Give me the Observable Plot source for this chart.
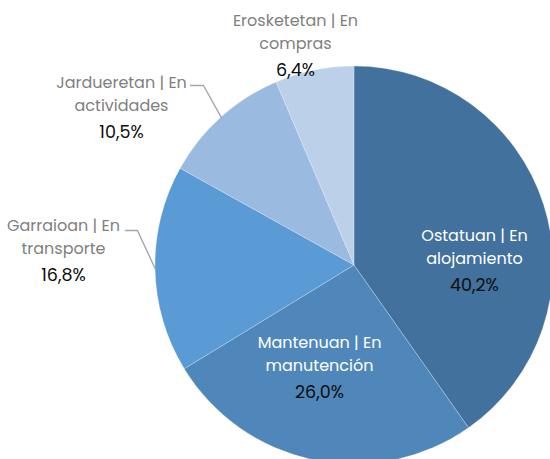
<!DOCTYPE html>
<html><head><meta charset="utf-8">
<script src="https://cdn.jsdelivr.net/npm/d3@7"></script>
<script src="https://cdn.jsdelivr.net/npm/@observablehq/plot@0.6"></script>
<style>body{margin:0;background:#fff}</style>
</head><body><div id="chart"></div>
<script>
// ---- data ----
const categories = ["Ostatuan | En alojamiento", "Mantenuan | En manutención", "Garraioan | En transporte", "Jardueretan | En actividades", "Erosketetan | En compras"];
const nameLine1 = ["Ostatuan | En", "Mantenuan | En", "Garraioan | En", "Jardueretan | En", "Erosketetan | En"];
const nameLine2 = ["alojamiento", "manutención", "transporte", "actividades", "compras"];
const values = [40.2, 26.0, 16.8, 10.5, 6.4];
const colors = ["#41719C", "#4F87BA", "#5B9BD5", "#9BBAE0", "#BDD0EA"];

// ---- layout ----
const W = 550, H = 459, CX = 354, CY = 265, R = 199;
const labelAnchors = [
  {x: 474, y: 235, inside: true},
  {x: 319, y: 342, inside: true},
  {x: 63, y: 225, inside: false, leader: [125, 230, 137]},
  {x: 121, y: 82, inside: false, leader: [190, 85, 203]},
  {x: 295, y: 20, inside: false}
];

const rows = categories.map((c, i) => ({category: c, value: values[i], line1: nameLine1[i], line2: nameLine2[i],
  pct: values[i].toFixed(1).replace(".", ",") + "%", color: colors[i]}));
const arcs = d3.pie().sort(null).value(d => d.value).startAngle(0).endAngle(2 * Math.PI)(rows);

const labels = rows.map((d, i) => {
  const a = labelAnchors[i];
  return {...d, x: a.x, y: a.y, inside: a.inside};
});
const leaderPts = [];
rows.forEach((d, i) => {
  const a = labelAnchors[i];
  if (!a.leader) return;
  const mid = (arcs[i].startAngle + arcs[i].endAngle) / 2;
  const [x0, y0, x1] = a.leader;
  leaderPts.push({k: i, x: x0, y: y0}, {k: i, x: x1, y: y0},
    {k: i, x: CX + R * Math.sin(mid), y: CY - R * Math.cos(mid)});
});

function pieMark(...args) {
  const scales = args.find(a => a && typeof a.x === "function");
  const cx = scales.x(CX), cy = scales.y(CY), r = Math.abs(scales.x(CX + R) - scales.x(CX));
  const arc = d3.arc().innerRadius(0).outerRadius(r);
  const g = d3.create("svg:g").attr("transform", `translate(${cx},${cy})`);
  g.selectAll("path").data(arcs).join("path")
    .attr("d", arc).attr("fill", d => d.data.color)
    .attr("stroke", "#ffffff").attr("stroke-width", 0.6).attr("stroke-opacity", 0.4);
  return g.node();
}

const font = "Poppins, Inter, 'Open Sans', sans-serif";
const chart = Plot.plot({
  width: W, height: H, margin: 0,
  style: {fontFamily: font, background: "#fff"},
  x: {domain: [0, W], range: [0, W], axis: null},
  y: {domain: [0, H], range: [0, H], axis: null},
  marks: [
    pieMark,
    Plot.line(leaderPts, {x: "x", y: "y", z: "k", stroke: "#a6a6a6", strokeWidth: 1.4}),
    Plot.text(labels, {x: "x", y: "y", text: "line1", fontSize: 16, fill: d => d.inside ? "#ffffff" : "#7f7f7f"}),
    Plot.text(labels, {x: "x", y: d => d.y + 23.5, text: "line2", fontSize: 16, fill: d => d.inside ? "#ffffff" : "#7f7f7f"}),
    Plot.text(labels, {x: "x", y: d => d.y + 50, text: "pct", fontSize: 17.5, fill: "#0d0d0d"})
  ]
});
document.getElementById("chart").appendChild(chart);
</script>
</body></html>
